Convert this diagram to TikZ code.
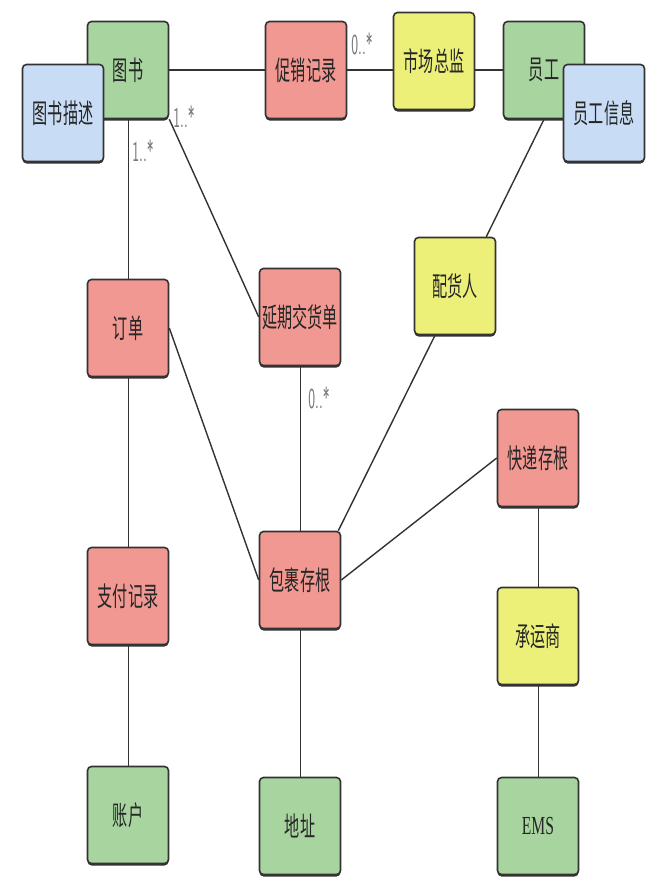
\documentclass[tikz,border=0pt]{standalone}
\usepackage{fontspec}
\newfontfamily\cjk{Noto Sans CJK SC}
\setmainfont{Liberation Serif}
\usetikzlibrary{shadows,backgrounds}
\definecolor{cgreen}{HTML}{A8D4A0}
\definecolor{cblue}{HTML}{C8DCF5}
\definecolor{cred}{HTML}{F09891}
\definecolor{cyellow}{HTML}{ECF078}
\definecolor{cedge}{HTML}{333333}
\definecolor{clabel}{HTML}{777777}
\newcommand{\cn}[1]{\scalebox{0.56}[1]{\cjk\fontsize{27}{29}\selectfont #1}}
\newcommand{\mult}[1]{\scalebox{0.5}[1]{\sffamily\fontsize{29}{31}\selectfont #1}}
\tikzset{
  entbox/.style={draw=cedge, line width=1.6pt, rounded corners=4pt,
    minimum width=81pt, minimum height=97pt, inner sep=0pt, text=black!85,
    drop shadow={shadow xshift=0pt, shadow yshift=-2pt, fill=cedge, opacity=1}},
  gbox/.style={entbox, fill=cgreen},
  bbox/.style={entbox, fill=cblue},
  rbox/.style={entbox, fill=cred},
  ybox/.style={entbox, fill=cyellow},
  conn/.style={draw=cedge, line width=1.4pt},
  thinconn/.style={draw=cedge, line width=0.8pt},
  multlabel/.style={text=clabel, inner sep=0pt},
}
\begin{document}
\begin{tikzpicture}[x=1pt, y=-1pt]
\useasboundingbox (0,0) rectangle (672,892);
% nodes
\node[gbox] (ts) at (128,70) {\cn{图书}};
\node[bbox] (tsms) at (63,113) {\cn{图书描述}};
\node[rbox] (cx) at (306,70) {\cn{促销记录}};
\node[ybox] (sc) at (434,61) {\cn{市场总监}};
\node[gbox] (yg) at (544,70) {\cn{员工}};
\node[bbox] (ygxx) at (604,113) {\cn{员工信息}};
\node[ybox] (ph) at (455,286) {\cn{配货人}};
\node[rbox] (yq) at (300,317) {\cn{延期交货单}};
\node[rbox] (dd) at (128,328) {\cn{订单}};
\node[rbox] (kd) at (538,458) {\cn{快递存根}};
\node[rbox] (bg) at (300,580) {\cn{包裹存根}};
\node[rbox] (zf) at (128,596) {\cn{支付记录}};
\node[ybox] (cy) at (538,636) {\cn{承运商}};
\node[gbox] (zh) at (128,815) {\cn{账户}};
\node[gbox] (dz) at (300,826) {\cn{地址}};
\node[gbox] (ems) at (538,826) {\scalebox{0.6}[1]{\fontsize{26}{28}\selectfont EMS}};
% multiplicity labels
\node[multlabel] (m1) at (362,44) {\mult{0..*}};
\node[multlabel] (m2) at (184,117) {\mult{1..*}};
\node[multlabel] (m3) at (143,151) {\mult{1..*}};
\node[multlabel] (m4) at (319,398) {\mult{0..*}};
% connectors
\begin{scope}[on background layer]
\fill[white] (0,0) rectangle (672,892);
\draw[conn] (ts.east) -- (cx.west);
\draw[conn] (cx.east |- ts.east) -- (sc.west |- ts.east);
\draw[conn] (sc.east |- ts.east) -- (yg.west);
\draw[conn] (yg.south) -- ([xshift=-10pt]ph.north east);
\draw[conn] ([xshift=-20pt]ph.south) -- ([xshift=-3pt]bg.north east);
\draw[conn] (ts.south east) -- (yq.west);
\draw[thinconn] (ts.south) -- (dd.north);
\draw[conn] (dd.east) -- (bg.west);
\draw[thinconn] (yq.south) -- (bg.north);
\draw[conn] (bg.east) -- (kd.west);
\draw[thinconn] (kd.south) -- (cy.north);
\draw[thinconn] (dd.south) -- (zf.north);
\draw[thinconn] (zf.south) -- (zh.north);
\draw[thinconn] (bg.south) -- (dz.north);
\draw[thinconn] (cy.south) -- (ems.north);
\end{scope}
\end{tikzpicture}
\end{document}
